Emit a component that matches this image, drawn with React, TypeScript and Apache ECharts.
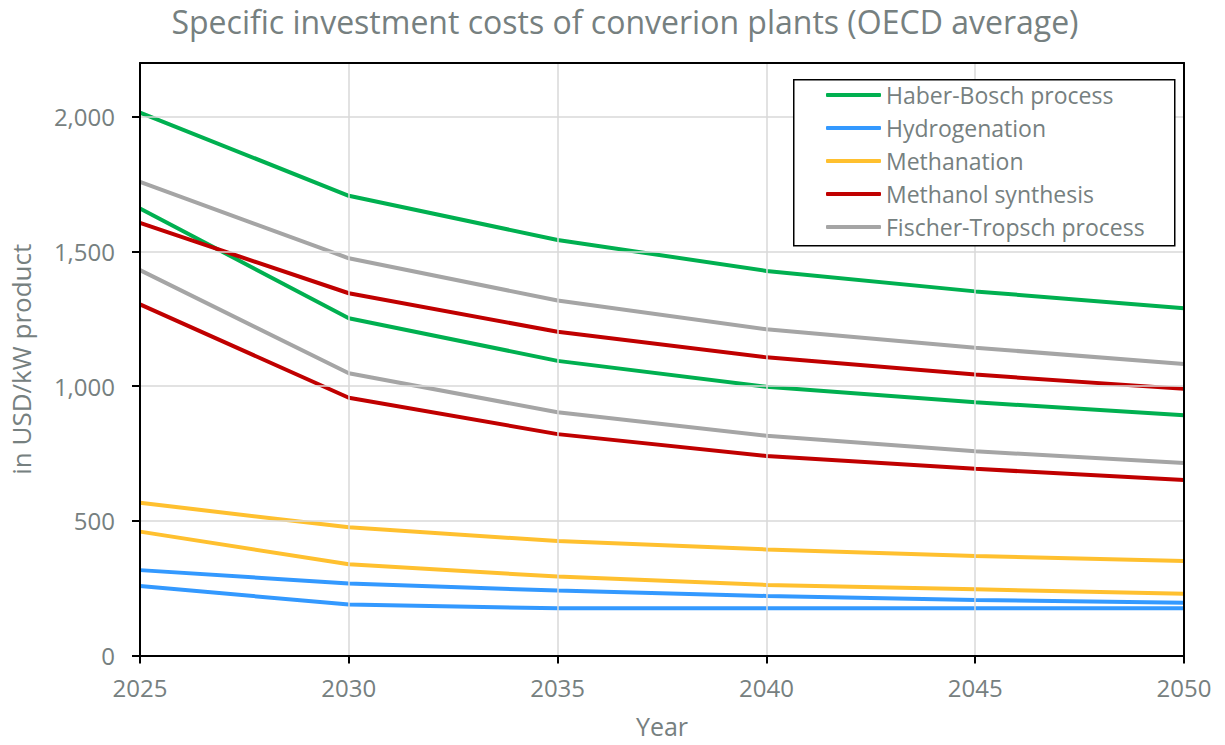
import React, { useEffect, useRef } from "react";
import * as echarts from "echarts";

// Years on the horizontal axis
const years = [2025, 2030, 2035, 2040, 2045, 2050];

// Specific investment costs in USD/kW product: upper and lower estimate per process
const haberBoschHigh = [2016, 1707, 1543, 1428, 1352, 1289];
const haberBoschLow = [1660, 1252, 1094, 998, 940, 892];
const hydrogenationHigh = [317, 267, 241, 221, 206, 196];
const hydrogenationLow = [258, 189, 175, 175, 175, 175];
const methanationHigh = [567, 476, 425, 394, 369, 351];
const methanationLow = [460, 339, 293, 262, 246, 229];
const methanolHigh = [1606, 1345, 1202, 1107, 1043, 990];
const methanolLow = [1304, 957, 822, 741, 693, 652];
const fischerTropschHigh = [1759, 1475, 1318, 1211, 1143, 1082];
const fischerTropschLow = [1431, 1048, 903, 816, 758, 715];

const yTicks = [0, 500, 1000, 1500, 2000];

const processes = [
  { name: "Haber-Bosch process", color: "#00b050", high: haberBoschHigh, low: haberBoschLow },
  { name: "Hydrogenation", color: "#3399ff", high: hydrogenationHigh, low: hydrogenationLow },
  { name: "Methanation", color: "#ffc02f", high: methanationHigh, low: methanationLow },
  { name: "Methanol synthesis", color: "#c00000", high: methanolHigh, low: methanolLow },
  { name: "Fischer-Tropsch process", color: "#a5a5a5", high: fischerTropschHigh, low: fischerTropschLow },
];

const FONT = "'Open Sans', 'DejaVu Sans', sans-serif";
const TEXT_COLOR = "#768080";

const addCommas = (v: number) => String(v).replace(/\B(?=(\d{3})+(?!\d))/g, ",");

// Plain black frame axis (top / right edge of the plot box)
const frameAxis = (position: string) => ({
  type: "value",
  position,
  min: position === "top" ? 2025 : 0,
  max: position === "top" ? 2050 : 2200,
  axisLine: { show: true, onZero: false, lineStyle: { color: "#000", width: 2 } },
  axisTick: { show: false },
  axisLabel: { show: false },
  splitLine: { show: false },
  z: 5,
});

export default function App() {
  const ref = useRef<HTMLDivElement>(null);

  useEffect(() => {
    if (!ref.current) return;
    const chart = echarts.init(ref.current, null, { renderer: "svg" });

    const series: any[] = [];
    processes.forEach((p) => {
      [p.high, p.low].forEach((vals) => {
        series.push({
          name: p.name,
          type: "line",
          data: years.map((y, i) => [y, vals[i]]),
          symbol: "none",
          lineStyle: { color: p.color, width: 4 },
          itemStyle: { color: p.color },
          z: 3,
        });
      });
    });

    chart.setOption({
      animation: false,
      textStyle: { fontFamily: FONT },
      title: {
        text: "Specific investment costs of converion plants (OECD average)",
        left: 620,
        top: 0,
        textAlign: "center",
        textStyle: { fontFamily: FONT, fontSize: 32, fontWeight: "normal", color: TEXT_COLOR },
      },
      grid: {
        left: 138,
        right: 41,
        top: 63,
        bottom: 89.5,
      },
      graphic: [
        {
          type: "rect",
          left: 793,
          top: 79,
          shape: { width: 381, height: 166 },
          style: { fill: "#fff", stroke: "#000", lineWidth: 1.5 },
          z: 5,
        },
      ],
      legend: {
        orient: "vertical",
        left: 826,
        top: 83,
        padding: 0,
        icon: "roundRect",
        itemWidth: 55,
        itemHeight: 4,
        itemGap: 9,
        z: 6,
        textStyle: { fontFamily: FONT, fontSize: 23, lineHeight: 24, color: TEXT_COLOR },
        data: processes.map((p) => p.name),
      },
      xAxis: [
        {
          type: "value",
          min: 2025,
          max: 2050,
          interval: 5,
          name: "Year",
          nameLocation: "middle",
          nameGap: 58,
          nameTextStyle: { fontFamily: FONT, fontSize: 25, color: TEXT_COLOR },
          axisLine: { show: true, lineStyle: { color: "#000", width: 2 } },
          axisTick: { show: true, inside: false, length: 8, lineStyle: { color: "#000", width: 2 } },
          axisLabel: {
            fontFamily: FONT,
            fontSize: 24,
            color: TEXT_COLOR,
            margin: 20,
            formatter: (v: number) => String(v),
          },
          splitLine: { show: true, lineStyle: { color: "#d9d9d9", width: 1.5 } },
          z: 4,
        },
        frameAxis("top"),
      ],
      yAxis: [
        {
          type: "value",
          min: 0,
          max: 2200,
          interval: 500,
          name: "in USD/kW product",
          nameLocation: "middle",
          nameGap: 106,
          nameTextStyle: { fontFamily: FONT, fontSize: 26, color: TEXT_COLOR },
          axisLine: { show: true, lineStyle: { color: "#000", width: 2 } },
          axisTick: {
            show: true,
            inside: false,
            length: 8,
            customValues: yTicks,
            lineStyle: { color: "#000", width: 2 },
          },
          axisLabel: {
            fontFamily: FONT,
            fontSize: 24,
            color: TEXT_COLOR,
            margin: 25,
            customValues: yTicks,
            formatter: (v: number) => addCommas(v),
          },
          splitLine: { show: true, lineStyle: { color: "#d9d9d9", width: 1.5 } },
          z: 4,
        },
        frameAxis("right"),
      ],
      series,
    });

    return () => chart.dispose();
  }, []);

  return <div ref={ref} style={{ width: 1225, height: 745, position: "absolute", left: 0, top: 0 }} />;
}
